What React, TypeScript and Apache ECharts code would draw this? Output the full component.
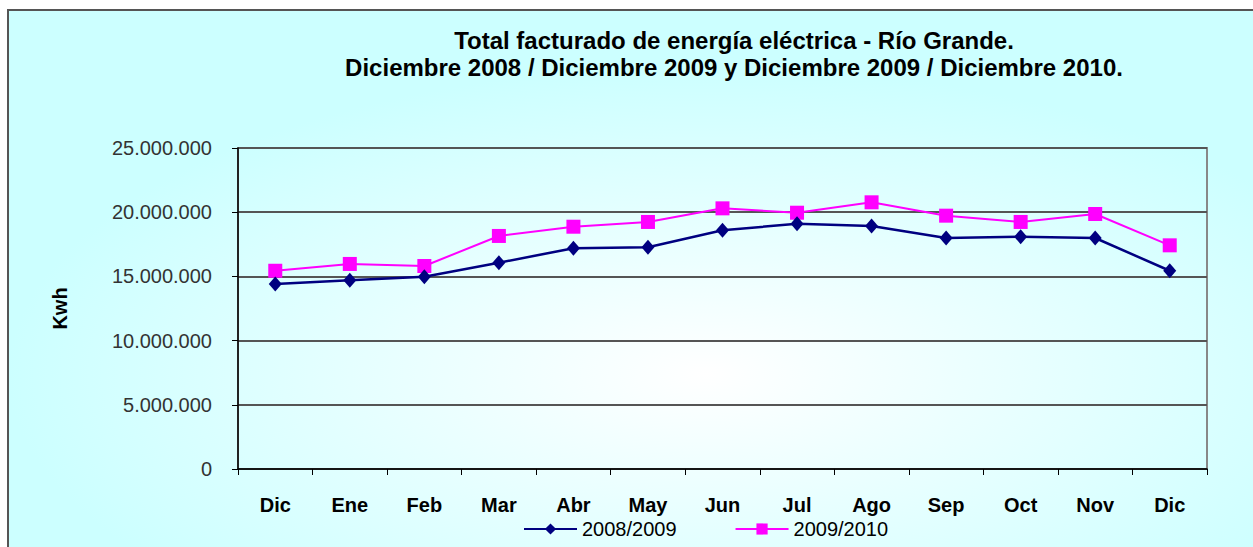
import React, { useEffect, useRef } from "react";
import * as echarts from "echarts";

const categories = ["Dic", "Ene", "Feb", "Mar", "Abr", "May", "Jun", "Jul", "Ago", "Sep", "Oct", "Nov", "Dic"];
const serie2008 = [14410000, 14700000, 14980000, 16070000, 17190000, 17270000, 18590000, 19100000, 18930000, 17990000, 18090000, 17990000, 15440000];
const serie2009 = [15440000, 15970000, 15810000, 18150000, 18870000, 19240000, 20300000, 19960000, 20770000, 19730000, 19240000, 19860000, 17420000];
const seriesNames = ["2008/2009", "2009/2010"];
const titleLines = [
  "Total facturado de energía eléctrica - Río Grande.",
  "Diciembre 2008 / Diciembre 2009 y Diciembre 2009 / Diciembre 2010.",
];

const fmt = (v: number) => String(Math.round(v)).replace(/\B(?=(\d{3})+(?!\d))/g, ".");

export default function App() {
  const ref = useRef<HTMLDivElement>(null);
  useEffect(() => {
    if (!ref.current) return;
    const chart = echarts.init(ref.current, undefined, { renderer: "svg" });
    const font = "Liberation Sans, Arial, sans-serif";
    chart.setOption({
      animation: false,
      backgroundColor: "#ffffff",
      graphic: [
        {
          type: "rect",
          z: -10,
          silent: true,
          shape: { x: 8, y: 10, width: 1270, height: 560 },
          style: {
            fill: {
              type: "radial",
              x: 0.55,
              y: 0.65,
              r: 0.55,
              colorStops: [
                { offset: 0, color: "#ffffff" },
                { offset: 1, color: "#ccffff" },
              ],
            },
            stroke: "#555555",
            lineWidth: 2,
          },
        },
      ],
      title: {
        text: titleLines.join("\n"),
        left: 729,
        top: 22,
        textAlign: "center",
        textStyle: {
          fontFamily: font,
          fontSize: 24,
          fontWeight: "bold",
          color: "#000",
          lineHeight: 27,
        },
      },
      legend: {
        left: 518,
        top: 514,
        itemWidth: 53,
        itemHeight: 14,
        itemGap: 58,
        textStyle: { fontFamily: font, fontSize: 20, color: "#000", padding: [0, 0, 0, 0] },
        data: seriesNames,
      },
      grid: {
        left: 238,
        right: 46,
        top: 148,
        bottom: 78,
        show: true,
        borderColor: "#888888",
        borderWidth: 2,
        backgroundColor: "transparent",
      },
      xAxis: {
        type: "category",
        data: categories,
        boundaryGap: true,
        axisLine: { lineStyle: { color: "#000", width: 1.5 } },
        axisTick: { show: true, length: 6, lineStyle: { color: "#000" } },
        axisLabel: {
          interval: 0,
          margin: 26,
          fontFamily: font,
          fontSize: 20,
          fontWeight: "bold",
          color: "#000",
        },
        splitLine: { show: false },
      },
      yAxis: {
        type: "value",
        min: 0,
        max: 25000000,
        interval: 5000000,
        name: "Kwh",
        nameLocation: "middle",
        nameRotate: 90,
        nameGap: 168,
        nameTextStyle: { fontFamily: font, fontSize: 20, fontWeight: "bold", color: "#000" },
        axisLine: { show: true, lineStyle: { color: "#000", width: 1.5 } },
        axisTick: { show: true, length: 6, lineStyle: { color: "#000" } },
        axisLabel: {
          margin: 26,
          fontFamily: font,
          fontSize: 20,
          color: "#333",
          formatter: (v: number) => fmt(v),
        },
        splitLine: { show: true, lineStyle: { color: "#555555", width: 2 } },
      },
      series: [
        {
          name: seriesNames[0],
          type: "line",
          data: serie2008,
          symbol: "diamond",
          symbolSize: [13, 15],
          itemStyle: { color: "#000080" },
          lineStyle: { color: "#000080", width: 2.5 },
          z: 3,
        },
        {
          name: seriesNames[1],
          type: "line",
          data: serie2009,
          symbol: "rect",
          symbolSize: 14,
          itemStyle: { color: "#ff00ff" },
          lineStyle: { color: "#ff00ff", width: 2 },
          z: 2,
        },
      ],
    });
    return () => chart.dispose();
  }, []);
  return (
    <div
      ref={ref}
      style={{ position: "absolute", left: 0, top: 0, width: 1253, height: 547 }}
    />
  );
}
